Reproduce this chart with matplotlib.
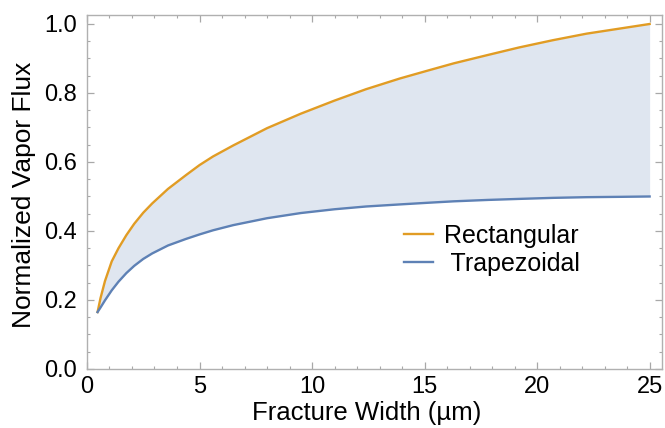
import numpy as np
import matplotlib.pyplot as plt
from matplotlib.ticker import MultipleLocator, FormatStrFormatter

# Значения
width = [0.47, 0.6, 0.8, 1.1, 1.4, 1.75, 2.1, 2.5, 2.9, 3.6, 4.4, 5.0, 5.6,
         6.5, 8.0, 9.5, 11.0, 12.4, 13.9, 15.2, 16.3, 17.8, 19.2, 20.7, 22.2,
         23.7, 25.0]
rect = [0.165, 0.205, 0.255, 0.312, 0.350, 0.388, 0.421, 0.453, 0.480, 0.522,
        0.562, 0.591, 0.616, 0.648, 0.698, 0.740, 0.778, 0.811, 0.842, 0.866,
        0.886, 0.910, 0.932, 0.953, 0.972, 0.987, 1.0]
trap = [0.165, 0.178, 0.199, 0.228, 0.253, 0.278, 0.299, 0.319, 0.335, 0.358,
        0.377, 0.390, 0.402, 0.417, 0.437, 0.452, 0.463, 0.471, 0.477, 0.482,
        0.486, 0.490, 0.493, 0.496, 0.498, 0.499, 0.5]

plt.rcParams['font.family'] = ['Liberation Sans', 'DejaVu Sans']

fig = plt.figure(figsize=(6.65, 4.28), dpi=100)
ax = fig.add_axes([0.1308, 0.1379, 0.8647, 0.8278])

blue = '#5e81b5'
orange = '#e19c24'
ax.fill_between(width, trap, rect, color='#dfe6f0', lw=0)
ax.plot(width, rect, color=orange, lw=1.7, label='Rectangular')
ax.plot(width, trap, color=blue, lw=1.7, label=' Trapezoidal')

ax.set_xlim(0, 25.55)
ax.set_ylim(0, 1.027)

ax.xaxis.set_major_locator(MultipleLocator(5))
ax.xaxis.set_minor_locator(MultipleLocator(1))
ax.yaxis.set_major_locator(MultipleLocator(0.2))
ax.yaxis.set_minor_locator(MultipleLocator(0.05))
ax.yaxis.set_major_formatter(FormatStrFormatter('%.1f'))

for s in ax.spines.values():
    s.set_color('#b0b0b0')
    s.set_linewidth(1.0)
ax.tick_params(which='both', direction='in', top=True, right=True,
               color='#a8a8a8', labelsize=17)
ax.tick_params(which='major', length=4.8, width=0.9)
ax.tick_params(which='minor', length=2.4, width=0.8)
ax.tick_params(axis='x', pad=5)
ax.tick_params(axis='y', pad=7)

ax.set_xlabel('Fracture Width (µm)', fontsize=18.5, va='center', ha='center')
ax.set_ylabel('Normalized Vapor Flux', fontsize=19, va='center', ha='center')
ax.xaxis.set_label_coords(0.487, -0.123)
ax.yaxis.set_label_coords(-0.11, 0.491)

ax.legend(frameon=False, loc='center left', bbox_to_anchor=(0.53, 0.336),
          fontsize=18, handlelength=1.15, handletextpad=0.45,
          labelspacing=0.15, borderpad=0)

fig.savefig('out.png', dpi=100)
